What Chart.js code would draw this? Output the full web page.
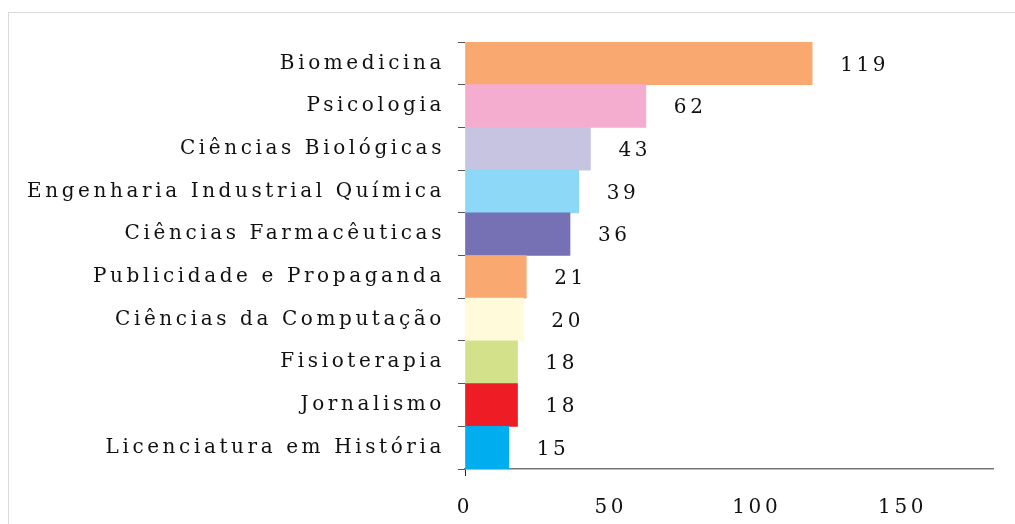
<!DOCTYPE html>
<html>
<head>
<meta charset="utf-8">
<script src="https://cdn.jsdelivr.net/npm/chart.js@4/dist/chart.umd.min.js"></script>
<style>
  html, body { margin: 0; padding: 0; background: #fff; }
  #wrap { position: relative; width: 1015px; height: 524px; }
  #frame { position: absolute; left: 8px; top: 12px; right: -2px; bottom: -2px;
           border-top: 1.5px solid #d9d9d9; border-left: 1.5px solid #d9d9d9; }
  canvas { position: absolute; left: 0; top: 0; }
</style>
</head>
<body>
<div id="wrap">
  <div id="frame"></div>
  <canvas id="c" width="1015" height="524"></canvas>
</div>
<script>
const categories = [
  "Biomedicina",
  "Psicologia",
  "Ciências Biológicas",
  "Engenharia Industrial Química",
  "Ciências Farmacêuticas",
  "Publicidade e Propaganda",
  "Ciências da Computação",
  "Fisioterapia",
  "Jornalismo",
  "Licenciatura em História"
];
const values = [119, 62, 43, 39, 36, 21, 20, 18, 18, 15];
const barColors = ["#F9A870", "#F4ADCF", "#C6C4E1", "#8DD7F7", "#7670B5",
                   "#F9A870", "#FFFADA", "#D3E28A", "#EE1C25", "#00AEEF"];
const xTickValues = [0, 50, 100, 150];

const FONT = "'DejaVu Serif', 'Liberation Serif', serif";
const SPACING = '3.6px';

const spacingPlugin = {
  id: 'spacing',
  beforeUpdate(chart) { chart.ctx.letterSpacing = SPACING; },
  beforeLayout(chart) { chart.ctx.letterSpacing = SPACING; },
  beforeDraw(chart) { chart.ctx.letterSpacing = SPACING; }
};

const valueLabels = {
  id: 'valueLabels',
  afterDatasetsDraw(chart) {
    const ctx = chart.ctx;
    const meta = chart.getDatasetMeta(0);
    ctx.save();
    ctx.letterSpacing = SPACING;
    ctx.font = "20px " + FONT;
    ctx.fillStyle = '#111';
    ctx.textAlign = 'left';
    ctx.textBaseline = 'middle';
    meta.data.forEach((bar, i) => {
      ctx.fillText(String(values[i]), bar.x + 28, bar.y + 2);
    });
    ctx.restore();
  }
};

new Chart(document.getElementById('c'), {
  type: 'bar',
  data: {
    labels: categories,
    datasets: [{
      data: values,
      backgroundColor: barColors,
      borderWidth: 0,
      categoryPercentage: 1.0,
      barPercentage: 1.0
    }]
  },
  options: {
    indexAxis: 'y',
    responsive: false,
    animation: false,
    layout: { padding: { top: 42, right: 22, left: 0, bottom: 0 } },
    plugins: { legend: { display: false }, tooltip: { enabled: false } },
    scales: {
      y: {
        grid: { drawOnChartArea: false, drawTicks: true, tickLength: 7, tickColor: '#555', offset: true },
        border: { display: false },
        ticks: { font: { family: FONT, size: 20 }, color: '#111', padding: 13, autoSkip: false },
        afterFit(axis) { axis.width = 465; }
      },
      x: {
        min: 0,
        max: 181,
        grid: {
          drawOnChartArea: false, drawTicks: true, tickLength: 7,
          tickColor: (c) => (c.index === 0 ? '#222' : 'rgba(0,0,0,0)')
        },
        border: { display: true, color: '#777', width: 1.5 },
        ticks: { font: { family: FONT, size: 20 }, color: '#111', padding: 20, stepSize: 50 },
        afterBuildTicks(axis) {
          axis.ticks = xTickValues.map(v => ({ value: v }));
        },
        afterFit(axis) { axis.height = 55; }
      }
    }
  },
  plugins: [spacingPlugin, valueLabels]
});
</script>
</body>
</html>
